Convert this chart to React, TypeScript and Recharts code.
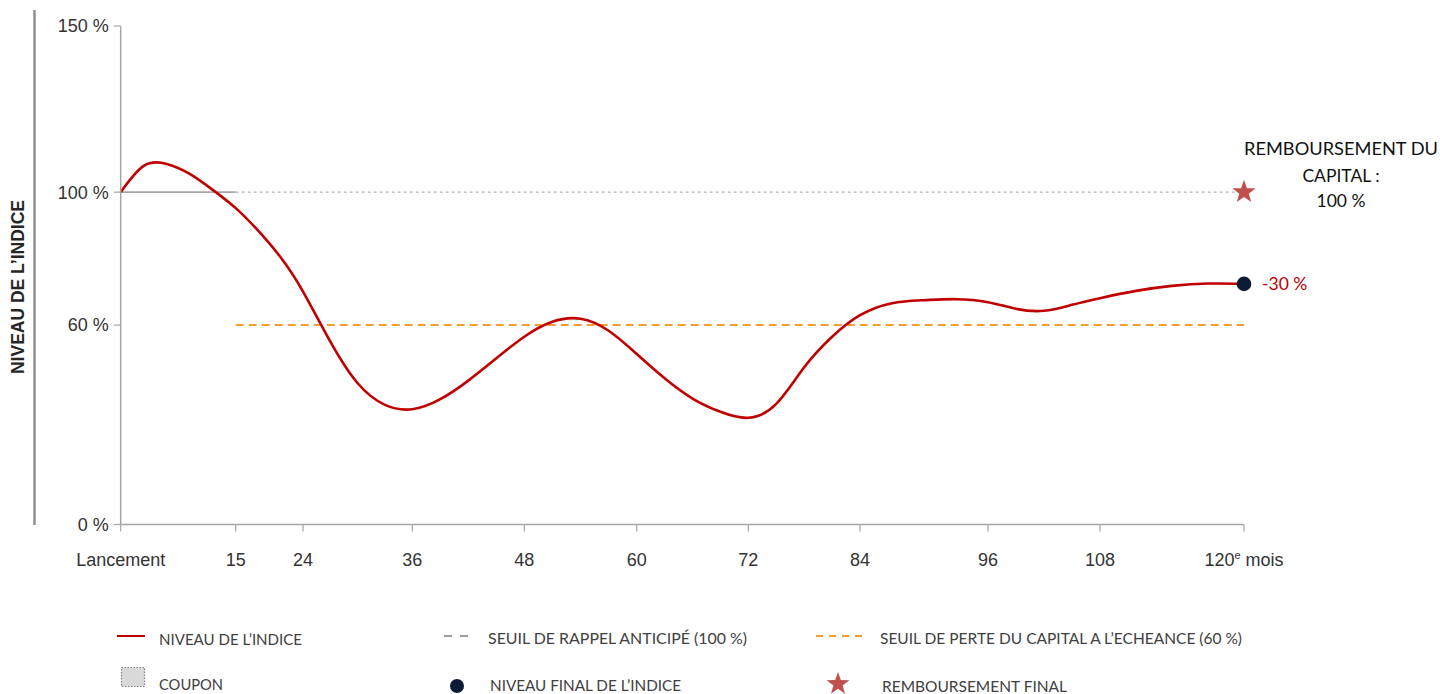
import React from 'react';
import {
  ComposedChart,
  Line,
  Scatter,
  XAxis,
  YAxis,
  ReferenceLine,
} from 'recharts';

// index path, months since launch -> level in %
const months = [0, 3, 6, 9, 12, 15, 18, 21, 24, 27, 30, 33, 36, 39, 42, 45, 48, 51, 54, 57, 60, 63, 66, 69, 72, 75, 78, 81, 84, 87, 90, 93, 96, 99, 102, 105, 108, 111, 114, 117, 120];
const indexLevel = [100, 107.9, 108.5, 105.5, 100.7, 95.2, 88.4, 80.4, 70.1, 55, 42.5, 36, 34.7, 37.7, 43.3, 50, 56.5, 61, 61.9, 58.3, 51.3, 44, 37.9, 33.9, 32.1, 36.3, 47.3, 56.5, 63, 66.6, 67.5, 67.8, 66.9, 64.9, 64.3, 66.1, 68.1, 70.3, 71.8, 72.5, 72.4];

const xTicks = [0, 15, 24, 36, 48, 60, 72, 84, 96, 108, 120];
const xTickLabels = ['Lancement', '15', '24', '36', '48', '60', '72', '84', '96', '108', '120'];
const yTicks = [0, 60, 100, 150];

const barrierStart = 15;
const recallBarrier = 100;
const capitalBarrier = 60;

const finalMonth = [120];
const finalLevel = [72.4];
const finalPerf = ['-30 %'];
const repaidLevel = [100];

// the month ticks are not evenly spaced on the drawn axis
const X_TICK_FRACTION = [0, 0.1024, 0.1623, 0.2596, 0.3593, 0.4594, 0.5587, 0.6582, 0.7721, 0.8718, 1];

const RED = '#C00000';
const NAVY = '#0C1C36';
const STAR = '#C0504D';
const ORANGE = '#F59D2F';
const AXIS = '#A6A6A6';
const TXT = '#333333';

function makeWarpScale(knots: number[], fractions: number[]) {
  let dom: number[] = [knots[0], knots[knots.length - 1]];
  let rng: number[] = [0, 1];
  const toFraction = (v: number) => {
    const n = knots.length - 1;
    let i = 1;
    while (i < n && v > knots[i]) i++;
    const t = (v - knots[i - 1]) / (knots[i] - knots[i - 1]);
    return fractions[i - 1] + t * (fractions[i] - fractions[i - 1]);
  };
  const scale: any = (v: any) => {
    const x = Number(v);
    if (!Number.isFinite(x)) return undefined;
    const f0 = toFraction(dom[0]);
    const f1 = toFraction(dom[1]);
    const f = (toFraction(x) - f0) / (f1 - f0);
    return rng[0] + f * (rng[1] - rng[0]);
  };
  scale.domain = (d?: any[]) => {
    if (d === undefined) return dom.slice();
    dom = d.map(Number);
    return scale;
  };
  scale.range = (r?: any[]) => {
    if (r === undefined) return rng.slice();
    rng = r.map(Number);
    return scale;
  };
  scale.copy = () => makeWarpScale(knots, fractions).domain(dom).range(rng);
  scale.ticks = () => knots.slice();
  scale.invert = (px: number) => {
    let best = knots[0];
    let bestD = Infinity;
    for (let m = knots[0]; m <= knots[knots.length - 1]; m += 0.25) {
      const d = Math.abs(scale(m) - px);
      if (d < bestD) {
        bestD = d;
        best = m;
      }
    }
    return best;
  };
  return scale;
}

const monthScale = makeWarpScale(xTicks, X_TICK_FRACTION);

const data = months.map((m, i) => ({ m, v: indexLevel[i] }));
const finalData = finalMonth.map((m, i) => ({ m, v: finalLevel[i], label: finalPerf[i] }));
const repaidData = finalMonth.map((m, i) => ({ m, v: repaidLevel[i] }));

const starPoints = (cx: number, cy: number, R: number) => {
  const r = R * 0.4;
  const pts: string[] = [];
  for (let k = 0; k < 10; k++) {
    const rad = k % 2 === 0 ? R : r;
    const a = -Math.PI / 2 + (k * Math.PI) / 5;
    pts.push(`${cx + rad * Math.cos(a)},${cy + rad * Math.sin(a)}`);
  }
  return pts.join(' ');
};

const XTick = (props: any) => {
  const { x, y, payload } = props;
  const i = xTicks.indexOf(payload.value);
  const label = i >= 0 ? xTickLabels[i] : String(payload.value);
  const common = {
    x,
    y: y + 34,
    textAnchor: 'middle' as const,
    fontFamily: 'Liberation Sans, Arial, sans-serif',
    fontSize: 18,
    fill: TXT,
  };
  if (i === xTicks.length - 1) {
    return (
      <text {...common}>
        <tspan>{label}</tspan>
        <tspan dy={-7} fontSize={11}>e</tspan>
        <tspan dy={7}> mois</tspan>
      </text>
    );
  }
  return <text {...common}>{label}</text>;
};

const FinalDot = (props: any) => {
  const { cx, cy, payload } = props;
  return (
    <g>
      <circle cx={cx} cy={cy} r={7.3} fill={NAVY} />
      <text x={cx + 18} y={cy + 6} fontFamily="Lato, sans-serif" fontSize={17.5} fill={RED}>
        {payload.label}
      </text>
    </g>
  );
};

const RepaidStar = (props: any) => {
  const { cx, cy } = props;
  const tx = cx + 97;
  const font = { fontFamily: 'Lato, sans-serif', fontSize: 17.5, fill: '#111', textAnchor: 'middle' as const };
  return (
    <g>
      <polygon points={starPoints(cx, cy, 12.3)} fill={STAR} />
      <text x={tx} y={cy - 37} {...font} textLength={194} lengthAdjust="spacingAndGlyphs">
        REMBOURSEMENT DU
      </text>
      <text x={tx} y={cy - 10} {...font}>CAPITAL :</text>
      <text x={tx} y={cy + 15} {...font}>100 %</text>
    </g>
  );
};

const legendFont = { fontFamily: 'Lato, sans-serif', fontSize: 15.5, fill: '#404040' };

const Overlay = () => (
  <svg width={1440} height={694} style={{ position: 'absolute', left: 0, top: 0, pointerEvents: 'none' }}>
    <line x1={34.5} y1={10} x2={34.5} y2={525} stroke="#8C8C8C" strokeWidth={2.4} />
    <text
      transform="translate(17.5,287) rotate(-90)"
      textAnchor="middle"
      dominantBaseline="central"
      fontFamily="Liberation Sans, Arial, sans-serif"
      fontWeight="bold"
      fontSize={17.5}
      fill="#262626"
    >
      NIVEAU DE L’INDICE
    </text>

    {/* legend, row 1 */}
    <line x1={117} y1={636} x2={145} y2={636} stroke={RED} strokeWidth={2} />
    <text x={159} y={645} {...legendFont} textLength={143} lengthAdjust="spacingAndGlyphs">NIVEAU DE L’INDICE</text>
    <line x1={444} y1={636} x2={468} y2={636} stroke="#7F7F7F" strokeWidth={1.5} strokeDasharray="8 8" />
    <text x={488} y={644} {...legendFont} textLength={259} lengthAdjust="spacingAndGlyphs">SEUIL DE RAPPEL ANTICIPÉ (100 %)</text>
    <line x1={816} y1={636} x2={862} y2={636} stroke={ORANGE} strokeWidth={2} strokeDasharray="7 6" />
    <text x={880} y={644} {...legendFont} textLength={362} lengthAdjust="spacingAndGlyphs">SEUIL DE PERTE DU CAPITAL A L’ECHEANCE (60 %)</text>

    {/* legend, row 2 */}
    <rect x={121.5} y={667.5} width={23} height={19} fill="#D9D9D9" stroke="#7F7F7F" strokeWidth={1.2} strokeDasharray="1.5 1.5" />
    <text x={159} y={690} {...legendFont} textLength={64} lengthAdjust="spacingAndGlyphs">COUPON</text>
    <circle cx={457} cy={686} r={7} fill={NAVY} />
    <text x={490} y={691} {...legendFont} textLength={191} lengthAdjust="spacingAndGlyphs">NIVEAU FINAL DE L’INDICE</text>
    <polygon points={starPoints(838, 684, 12)} fill={STAR} />
    <text x={882} y={692} {...legendFont} textLength={185} lengthAdjust="spacingAndGlyphs">REMBOURSEMENT FINAL</text>
  </svg>
);

const App: React.FC = () => {
  return (
    <div style={{ position: 'absolute', left: 0, top: 0, width: 1440, height: 694, background: '#fff' }}>
      <ComposedChart
        width={1440}
        height={694}
        data={data}
        margin={{ top: 26, right: 196, bottom: 119.5, left: 40.7 }}
      >
        <XAxis
          dataKey="m"
          type="number"
          scale={monthScale}
          domain={[0, 120]}
          ticks={xTicks}
          interval={0}
          height={50}
          tickSize={7}
          tickMargin={0}
          axisLine={{ stroke: AXIS, strokeWidth: 1.5 }}
          tickLine={{ stroke: AXIS, strokeWidth: 1.2 }}
          tick={<XTick />}
        />
        <YAxis
          type="number"
          domain={[0, 150]}
          ticks={yTicks}
          interval={0}
          width={80}
          tickSize={7}
          tickMargin={5}
          tickFormatter={(v: number) => `${v} %`}
          axisLine={{ stroke: AXIS, strokeWidth: 1.5 }}
          tickLine={{ stroke: AXIS, strokeWidth: 1.2 }}
          tick={{ fontFamily: 'Liberation Sans, Arial, sans-serif', fontSize: 18, fill: TXT }}
        />
        <ReferenceLine
          segment={[{ x: 0, y: recallBarrier }, { x: barrierStart, y: recallBarrier }]}
          stroke={AXIS}
          strokeWidth={1.8}
        />
        <ReferenceLine
          segment={[{ x: barrierStart, y: recallBarrier }, { x: 120, y: recallBarrier }]}
          stroke="#B4B4B4"
          strokeWidth={1.3}
          strokeDasharray="3 3"
        />
        <ReferenceLine
          segment={[{ x: barrierStart, y: capitalBarrier }, { x: 120, y: capitalBarrier }]}
          stroke={ORANGE}
          strokeWidth={2}
          strokeDasharray="8 5"
        />
        <Line
          type="natural"
          dataKey="v"
          stroke={RED}
          strokeWidth={2.6}
          dot={false}
          activeDot={false}
          isAnimationActive={false}
        />
        <Scatter data={repaidData} dataKey="v" shape={<RepaidStar />} isAnimationActive={false} />
        <Scatter data={finalData} dataKey="v" shape={<FinalDot />} isAnimationActive={false} />
      </ComposedChart>
      <Overlay />
    </div>
  );
};

export default App;
